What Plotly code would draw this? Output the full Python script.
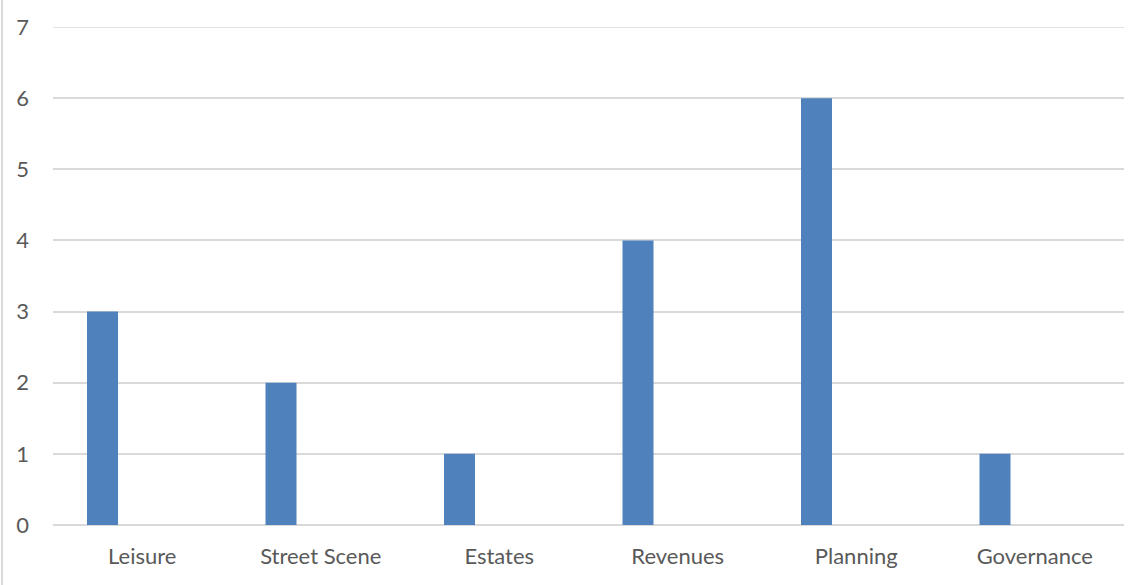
import plotly.graph_objects as go

categories = ["Leisure", "Street Scene", "Estates", "Revenues", "Planning", "Governance"]
values = [3, 2, 1, 4, 6, 1]
y_ticks = [0, 1, 2, 3, 4, 5, 6, 7]

fig = go.Figure()
fig.add_trace(go.Bar(
    x=categories, y=values,
    width=0.1737, offset=-0.3095,
    marker=dict(color="#4f81bd", line=dict(width=0)),
    hoverinfo="x+y",
))

fig.update_layout(
    width=1128, height=585,
    margin=dict(l=53, r=4, t=27, b=60),
    paper_bgcolor="white", plot_bgcolor="white",
    showlegend=False,
    font=dict(family="Lato, 'Open Sans', sans-serif", size=22, color="#595959"),
    xaxis=dict(
        showgrid=False, showline=False, zeroline=False, automargin=False,
        tickfont=dict(size=22, color="#595959"),
        ticks="", ticklabelstandoff=16,
    ),
    yaxis=dict(
        range=[0, 7], tickvals=y_ticks, automargin=False,
        showgrid=True, gridcolor="#d9d9d9", gridwidth=1.5,
        zeroline=True, zerolinecolor="#d9d9d9", zerolinewidth=1.5,
        showline=False, ticks="",
        tickfont=dict(size=22, color="#595959"),
        ticklabelstandoff=23,
    ),
    shapes=[
        dict(type="line", xref="paper", yref="paper",
             x0=-51/1071, x1=-51/1071, y0=-60/498, y1=1 + 27/498,
             line=dict(color="#d9d9d9", width=2)),
        dict(type="line", xref="paper", yref="y", layer="below",
             x0=0, x1=1, y0=7, y1=7,
             line=dict(color="#d9d9d9", width=1.5)),
    ],
)

fig.write_html("out.html", config={"displayModeBar": False},
               post_script="document.body.style.margin='0';")
